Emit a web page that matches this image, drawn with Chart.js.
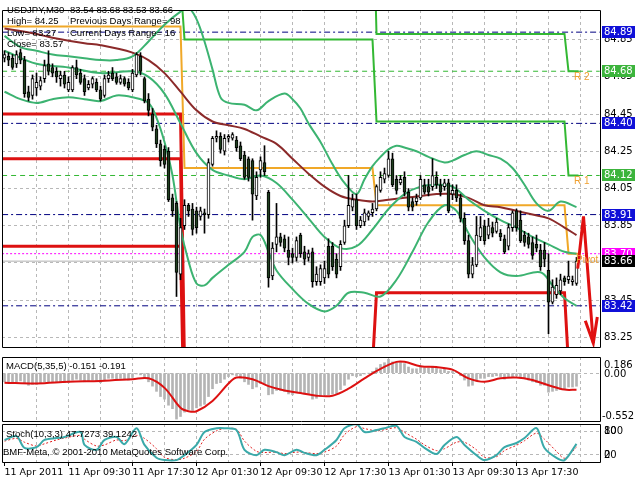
<!DOCTYPE html>
<html>
<head>
<meta charset="utf-8">
<title>USDJPY,M30</title>
<script src="https://cdn.jsdelivr.net/npm/chart.js@4.4.1/dist/chart.umd.min.js"></script>
<style>
  html, body { margin: 0; padding: 0; background: #fff; }
  body { width: 640px; height: 480px; position: relative; overflow: hidden; }
  canvas { position: absolute; left: 0; }
  #mainChart { top: 0; }
  #macdChart { top: 356px; }
  #stochChart { top: 423px; }
</style>
</head>
<body>
<canvas id="mainChart" width="640" height="357"></canvas>
<canvas id="macdChart" width="640" height="67"></canvas>
<canvas id="stochChart" width="640" height="57"></canvas>
<script>
// ---- candles (M30 bars, 11 Apr 01:30 .. 14 Apr 00:30) ----
const opens = [
  84.75,84.76,84.75,84.72,84.78,84.74,84.57,84.55,84.59,84.60,
  84.64,84.72,84.70,84.68,84.64,84.66,84.58,84.58,84.70,84.67,
  84.64,84.59,84.61,84.62,84.58,84.55,84.64,84.67,84.65,84.62,
  84.64,84.62,84.58,84.66,84.76,84.64,84.53,84.45,84.37,84.29,
  84.26,84.25,84.00,83.97,83.59,83.85,83.96,83.94,83.93,83.90,
  83.92,83.91,84.18,84.32,84.33,84.25,84.32,84.32,84.31,84.28,
  84.23,84.21,84.20,84.01,84.15,84.19,84.03,83.58,83.75,83.79,
  83.78,83.72,83.70,83.68,83.80,83.71,83.68,83.71,83.55,83.55,
  83.57,83.74,83.74,83.67,83.63,83.76,83.85,83.95,83.99,83.85,
  83.87,83.90,83.92,83.94,84.04,84.10,84.12,84.21,84.10,84.08,
  84.11,84.03,83.98,83.98,84.00,84.07,84.06,84.06,84.11,84.07,
  84.06,84.08,84.02,84.04,84.00,83.89,83.77,83.59,83.64,83.79,
  83.85,83.80,83.84,83.82,83.81,83.78,83.74,83.84,83.93,83.88,
  83.80,83.79,83.76,83.75,83.72,83.72,83.61,83.44,83.48,83.50,
  83.57,83.56,83.55,83.54
];
const highs = [
  84.79,84.78,84.77,84.79,84.80,84.76,84.60,84.66,84.67,84.65,
  84.74,84.79,84.72,84.70,84.68,84.68,84.65,84.71,84.74,84.69,
  84.66,84.63,84.65,84.64,84.60,84.66,84.68,84.70,84.67,84.66,
  84.65,84.64,84.69,84.78,84.78,84.65,84.56,84.48,84.39,84.31,
  84.28,84.27,84.02,83.98,83.89,83.99,83.97,83.97,83.95,83.95,
  83.94,84.21,84.33,84.36,84.35,84.34,84.34,84.35,84.33,84.30,
  84.25,84.22,84.21,84.14,84.22,84.28,84.04,83.76,83.97,83.81,
  83.80,83.79,83.73,83.79,83.81,83.74,83.72,83.73,83.63,83.64,
  83.66,83.78,83.76,83.70,83.77,83.88,84.12,84.02,84.02,83.90,
  83.94,83.93,83.97,84.07,84.14,84.16,84.25,84.24,84.12,84.12,
  84.14,84.05,84.00,84.02,84.12,84.10,84.10,84.21,84.14,84.10,
  84.10,84.10,84.07,84.07,84.02,83.92,83.80,83.68,83.90,83.90,
  83.88,83.89,83.87,83.89,83.83,83.80,83.86,83.93,83.94,83.93,
  83.82,83.81,83.79,83.80,83.75,83.76,83.70,83.56,83.57,83.59,
  83.58,83.66,83.58,83.68
];
const lows = [
  84.73,84.71,84.69,84.70,84.72,84.54,84.52,84.53,84.55,84.58,
  84.62,84.66,84.65,84.62,84.60,84.59,84.57,84.57,84.64,84.61,
  84.55,84.58,84.59,84.57,84.52,84.54,84.62,84.63,84.61,84.61,
  84.60,84.58,84.57,84.65,84.66,84.51,84.44,84.36,84.27,84.17,
  84.16,83.98,83.90,83.47,83.56,83.83,83.90,83.80,83.81,83.88,
  83.81,83.89,84.17,84.30,84.24,84.23,84.30,84.31,84.25,84.20,
  84.10,84.09,83.88,83.99,84.11,84.12,83.52,83.56,83.71,83.74,
  83.71,83.64,83.65,83.66,83.68,83.64,83.66,83.52,83.53,83.53,
  83.54,83.57,83.61,83.57,83.61,83.75,83.84,83.93,83.83,83.84,
  83.85,83.88,83.90,83.93,84.03,84.08,84.11,84.06,84.02,84.07,
  84.01,83.93,83.93,83.96,83.99,84.02,84.01,84.04,84.05,84.01,
  84.04,83.92,83.99,83.98,83.87,83.75,83.57,83.57,83.63,83.77,
  83.75,83.78,83.79,83.81,83.77,83.70,83.72,83.82,83.82,83.76,
  83.74,83.73,83.67,83.71,83.61,83.63,83.27,83.43,83.46,83.48,
  83.53,83.54,83.53,83.53
];
const closes = [
  84.77,84.74,84.70,84.77,84.74,84.56,84.54,84.64,84.62,84.63,
  84.71,84.68,84.67,84.65,84.66,84.61,84.62,84.70,84.66,84.62,
  84.57,84.61,84.64,84.58,84.53,84.64,84.66,84.64,84.62,84.64,
  84.61,84.59,84.67,84.77,84.68,84.52,84.47,84.38,84.29,84.20,
  84.18,83.99,83.93,83.60,83.84,83.96,83.93,83.83,83.84,83.93,
  83.91,84.19,84.32,84.33,84.26,84.32,84.33,84.34,84.27,84.21,
  84.11,84.11,84.02,84.11,84.20,84.14,83.57,83.73,83.79,83.76,
  83.73,83.68,83.68,83.77,83.70,83.67,83.70,83.55,83.59,83.62,
  83.62,83.59,83.63,83.59,83.75,83.85,83.96,83.99,83.85,83.88,
  83.92,83.92,83.94,84.06,84.11,84.13,84.21,84.07,84.04,84.10,
  84.03,83.95,83.95,84.00,84.10,84.03,84.03,84.12,84.07,84.03,
  84.08,83.93,84.04,84.00,83.89,83.77,83.59,83.64,83.80,83.84,
  83.77,83.85,83.81,83.87,83.79,83.71,83.84,83.92,83.84,83.77,
  83.76,83.75,83.69,83.73,83.63,83.67,83.44,83.52,83.53,83.56,
  83.55,83.58,83.56,83.66
];

// ---- axis labels / ticks ----
const timeLabels = ['11 Apr 2011', '11 Apr 09:30', '11 Apr 17:30', '12 Apr 01:30', '12 Apr 09:30',
                    '12 Apr 17:30', '13 Apr 01:30', '13 Apr 09:30', '13 Apr 17:30'];
const labelBars = [0, 16, 32, 48, 64, 80, 96, 112, 128];
const gridBars = [8, 16, 24, 32, 40, 48, 56, 64, 72, 80, 88, 96, 104, 112, 120, 128, 136, 144];
const priceTicks = [83.25, 83.45, 83.65, 83.85, 84.05, 84.25, 84.45, 84.65, 84.85];

// ---- Bollinger bands and moving average ----
const upperIdx = [0,4,8,12,16,20,24,28,32,36,40,44,46,48,50,52,54,56,60,63,66,70,72,74,76,79,82,85,88,90,92,94,96,98,100,103,106,110,112,115,118,121,124,127,130,133,136,139,143];
const upperVal = [84.87,84.81,84.79,84.77,84.76,84.75,84.74,84.74,84.76,84.84,84.93,85.00,85.02,84.96,84.84,84.69,84.54,84.51,84.50,84.47,84.52,84.56,84.53,84.48,84.40,84.30,84.18,84.08,84.02,84.10,84.17,84.22,84.26,84.28,84.27,84.25,84.22,84.19,84.20,84.23,84.25,84.23,84.21,84.16,84.07,83.97,83.93,83.98,83.95];
const midIdx = [0,8,16,24,32,36,40,44,48,52,56,60,64,68,72,76,80,84,88,92,96,100,104,108,112,116,120,124,128,132,136,140,143];
const midVal = [84.79,84.72,84.70,84.67,84.68,84.65,84.56,84.40,84.24,84.15,84.12,84.10,84.12,84.08,83.99,83.89,83.79,83.73,83.74,83.83,83.94,84.02,84.06,84.07,84.06,83.99,83.93,83.88,83.84,83.79,83.75,83.71,83.70];
const lowIdx = [0,4,8,12,16,20,24,28,32,36,38,40,42,44,46,48,50,52,56,60,62,64,66,68,72,76,80,83,86,90,94,98,102,106,110,113,116,120,124,128,134,137,140,143];
const lowVal = [84.57,84.53,84.51,84.53,84.54,84.53,84.52,84.55,84.54,84.51,84.43,84.30,84.12,83.84,83.66,83.54,83.53,83.57,83.64,83.71,83.79,83.80,83.71,83.61,83.51,83.43,83.39,83.42,83.49,83.49,83.47,83.56,83.71,83.87,83.96,83.93,83.81,83.68,83.60,83.58,83.60,83.53,83.46,83.42];
const maIdx = [0,8,12,20,24,32,36,40,44,48,52,56,60,64,68,72,76,80,84,88,92,96,100,104,108,112,116,120,124,128,132,136,140,143];
const maVal = [84.91,84.88,84.86,84.83,84.82,84.78,84.74,84.67,84.57,84.47,84.41,84.39,84.37,84.33,84.29,84.21,84.13,84.06,84.01,83.99,83.98,83.99,84.00,84.01,84.02,84.02,84.00,83.96,83.95,83.93,83.91,83.89,83.84,83.80];

// ---- daily pivot levels (one value per day) ----
const daySpans = [[-0.5, 44], [45, 92], [93, 140], [141, 143.5]];
const pivotLvl = [84.92, 84.16, 83.96, 83.70];
const r1Lvl = [85.16, 84.85, 84.41, 84.12];
const r2Lvl = [85.63, 85.74, 84.88, 84.68];
const s1Lvl = [84.45, 83.10, 83.49, 83.10];
const s2Lvl = [84.21, 82.90, 82.90, 82.90];
const s3Lvl = [83.74, 82.70, 82.70, 82.70];

// ---- horizontal levels on the price scale ----
const navyLevels = [84.89, 84.40, 83.91, 83.42];
const greenLevels = [84.68, 84.12];
const pivotLevel = 83.70;
const bidLevel = 83.66;

// ---- hand drawn arrow ----
const arrowX = [143.3, 144.75, 147.2];
const arrowY = [83.62, 83.90, 83.22];
const arrowHeadX = [145.2, 147.2, 148.2];
const arrowHeadY = [83.34, 83.22, 83.36];

// ---- MACD(5,35,5) ----
const macdHist = [
  -0.10,-0.10,-0.11,-0.10,-0.09,-0.12,-0.14,-0.13,-0.13,-0.12,-0.10,-0.10,-0.10,-0.11,-0.10,-0.11,
  -0.11,-0.08,-0.07,-0.08,-0.10,-0.09,-0.08,-0.09,-0.11,-0.08,-0.06,-0.06,-0.07,-0.06,-0.07,-0.08,
  -0.05,-0.01,-0.02,-0.06,-0.10,-0.15,-0.21,-0.27,-0.30,-0.37,-0.41,-0.53,-0.50,-0.45,-0.42,-0.43,
  -0.40,-0.38,-0.36,-0.27,-0.18,-0.12,-0.11,-0.07,-0.04,-0.02,-0.03,-0.06,-0.10,-0.13,-0.18,-0.16,
  -0.12,-0.12,-0.25,-0.24,-0.20,-0.20,-0.21,-0.24,-0.25,-0.22,-0.23,-0.24,-0.24,-0.30,-0.29,-0.27,
  -0.25,-0.25,-0.24,-0.24,-0.19,-0.14,-0.07,-0.03,-0.04,-0.03,-0.01,0.00,0.02,0.06,0.10,0.12,
  0.16,0.13,0.12,0.13,0.11,0.07,0.05,0.05,0.08,0.06,0.06,0.08,0.06,0.04,0.05,0.02,
  0.02,0.01,-0.03,-0.08,-0.15,-0.14,-0.09,-0.06,-0.06,-0.04,-0.04,-0.03,-0.04,-0.07,-0.05,-0.05,
  -0.03,-0.04,-0.06,-0.08,-0.10,-0.11,-0.14,-0.14,-0.22,-0.21,-0.20,-0.19,-0.18,-0.16,-0.16,-0.151
];
const macdSigIdx = [0,8,16,24,32,36,40,44,46,48,52,56,58,62,66,70,74,78,82,86,90,94,98,100,104,108,112,116,120,124,128,132,136,140,143];
const macdSigVal = [-0.11,-0.12,-0.10,-0.09,-0.07,-0.06,-0.17,-0.40,-0.44,-0.44,-0.32,-0.12,-0.05,-0.07,-0.15,-0.20,-0.23,-0.26,-0.26,-0.18,-0.06,0.05,0.13,0.13,0.08,0.07,0.04,-0.06,-0.10,-0.06,-0.05,-0.08,-0.14,-0.19,-0.191];
const macdMax = 0.186, macdMin = -0.552;

// ---- Stochastic(10,3,3) ----
const stochIdx = [0,3,5,8,10,13,15,19,20,23,25,28,30,33,35,38,40,43,45,48,50,53,55,58,60,63,65,68,70,73,75,78,80,83,85,88,90,93,95,98,100,103,105,108,110,113,115,118,120,123,125,128,130,133,135,138,140,143];
const stochMain = [58,68,37,39,58,63,66,79,45,32,58,66,47,89,45,11,5,5,18,45,79,89,89,84,32,18,32,26,18,32,24,18,32,58,89,100,79,84,89,95,66,53,37,21,45,66,45,18,5,18,39,50,63,89,37,11,5,47.7273];
const stochSig = [55,62,52,42,48,58,63,70,60,42,45,58,56,70,62,35,12,6,10,28,60,82,88,86,55,28,25,26,22,26,25,22,26,42,72,93,88,82,85,90,78,60,45,30,35,52,52,32,12,14,30,44,56,76,60,28,10,39.1242];
const stochLevels = [20, 80];

const pts = (xs, ys) => xs.map((x, k) => ({ x: x, y: ys[k] }));
const stepPts = vals => {
  const out = [];
  daySpans.forEach((d, k) => { out.push({ x: d[0], y: vals[k] }, { x: d[1], y: vals[k] }); });
  return out;
};
const flat = v => [{ x: -0.6, y: v }, { x: 148.8, y: v }];

Chart.defaults.font.family = "'DejaVu Sans', sans-serif";
Chart.defaults.font.size = 10;
Chart.defaults.color = '#000';

const X_MIN = -0.625, X_MAX = 148.875;

function gridAxis() {
  return {
    type: 'linear', min: X_MIN, max: X_MAX, offset: false,
    grid: { color: '#b8b8b8', drawTicks: false, offset: false },
    border: { display: false, dash: [3, 3] },
    ticks: { display: false },
    afterBuildTicks: s => { s.ticks = gridBars.map(v => ({ value: v })); },
    afterFit: s => { s.height = 0; }
  };
}

function frame(ctx, a) {
  ctx.save();
  ctx.strokeStyle = '#000';
  ctx.lineWidth = 1;
  ctx.beginPath();
  ctx.moveTo(a.left + 0.5, a.top + 0.5);
  ctx.lineTo(a.right + 0.5, a.top + 0.5);
  ctx.lineTo(a.right + 0.5, a.bottom + 0.5);
  ctx.lineTo(a.left + 0.5, a.bottom + 0.5);
  ctx.closePath();
  ctx.stroke();
  ctx.restore();
}

const headerRows = [
  ['USDJPY,M30', '83.54 83.68 83.53 83.66'],
  ['High= 84.25', 'Previous Days Range= 98'],
  ['Low= 83.27', 'Current Days Range= 16'],
  ['Close= 83.57', '']
];

const mainOverlay = {
  id: 'mainOverlay',
  afterDraw(chart) {
    const { ctx, chartArea: a, scales: { x, y } } = chart;
    frame(ctx, a);
    ctx.save();
    // header text
    ctx.fillStyle = '#000';
    ctx.font = "9.5px 'Liberation Sans'";
    ctx.textBaseline = 'middle';
    ctx.textAlign = 'left';
    const rowY = [10, 21, 33, 44];
    headerRows.forEach((r, k) => {
      ctx.fillText(r[0], 7, rowY[k]);
      if (r[1]) ctx.fillText(r[1], 70, rowY[k]);
    });
    // level names
    ctx.fillStyle = '#f0a030';
    ctx.font = "10px 'Liberation Sans'";
    ctx.textBaseline = 'top';
    const lx = x.getPixelForValue(142.4);
    ctx.fillText('R 2', lx, y.getPixelForValue(r2Lvl[3]) + 1);
    ctx.fillText('R 1', lx, y.getPixelForValue(r1Lvl[3]) + 1);
    ctx.fillText('Pivot', lx + 2, y.getPixelForValue(pivotLvl[3]) + 2);
    // price boxes
    ctx.font = "10px 'DejaVu Sans'";
    ctx.textBaseline = 'middle';
    const boxes = [];
    navyLevels.forEach(v => boxes.push({ v, bg: '#1010d8' }));
    greenLevels.forEach(v => boxes.push({ v, bg: '#3cb43c' }));
    boxes.push({ v: pivotLevel, bg: '#ff00ff' });
    boxes.push({ v: bidLevel, bg: '#000000' });
    boxes.forEach(b => {
      const py = Math.round(y.getPixelForValue(b.v));
      ctx.fillStyle = b.bg;
      ctx.fillRect(602, py - 6, 33, 12);
      ctx.fillStyle = '#fff';
      ctx.fillText(b.v.toFixed(2), 604, py);
    });
    ctx.restore();
  }
};

const lineDs = (data, color, width, extra) => Object.assign({
  type: 'line', data, borderColor: color, borderWidth: width, pointRadius: 0, fill: false, tension: 0
}, extra || {});

new Chart(document.getElementById('mainChart'), {
  type: 'bar',
  data: {
    datasets: [
      lineDs(pts(arrowX, arrowY), '#e01010', 3, { order: -1 }),
      lineDs(pts(arrowHeadX, arrowHeadY), '#e01010', 3, { order: -1 }),
      {
        type: 'bar', order: 0, grouped: false, barThickness: 3, minBarLength: 1,
        data: opens.map((o, i) => ({ x: i, y: [o, closes[i]] })),
        backgroundColor: opens.map((o, i) => closes[i] >= o ? '#ffffff' : '#1f3f1f'),
        borderColor: '#000', borderWidth: 1, borderSkipped: false
      },
      {
        type: 'bar', order: 1, grouped: false, barThickness: 1,
        data: lows.map((l, i) => ({ x: i, y: [l, highs[i]] })),
        backgroundColor: '#000'
      },
      lineDs(pts(upperIdx, upperVal), '#3cb371', 2, { order: 2, tension: 0.35 }),
      lineDs(pts(midIdx, midVal), '#3cb371', 2, { order: 2, tension: 0.35 }),
      lineDs(pts(lowIdx, lowVal), '#3cb371', 2, { order: 2, tension: 0.35 }),
      lineDs(pts(maIdx, maVal), '#8b2a2a', 2, { order: 2, tension: 0.35 }),
      lineDs(stepPts(pivotLvl), '#f0a828', 2, { order: 3 }),
      lineDs(stepPts(r1Lvl), '#33b833', 2, { order: 3 }),
      lineDs(stepPts(r2Lvl), '#33b833', 2, { order: 3 }),
      lineDs(stepPts(s1Lvl), '#dd1111', 3, { order: 3 }),
      lineDs(stepPts(s2Lvl), '#dd1111', 3, { order: 3 }),
      lineDs(stepPts(s3Lvl), '#dd1111', 3, { order: 3 }),
      ...navyLevels.map(v => lineDs(flat(v), '#000080', 1, { order: 4, borderDash: [6, 3, 2, 3] })),
      ...greenLevels.map(v => lineDs(flat(v), '#33b833', 1, { order: 4, borderDash: [5, 4] })),
      lineDs(flat(pivotLevel), '#ff00ff', 1, { order: 4, borderDash: [2, 2] }),
      lineDs(flat(bidLevel), '#b0b0b0', 1, { order: 4 })
    ]
  },
  options: {
    responsive: false, animation: false, devicePixelRatio: 1, events: [],
    layout: { padding: { left: 2, right: 0, top: 2, bottom: 2 } },
    plugins: { legend: { display: false }, tooltip: { enabled: false } },
    scales: {
      x: gridAxis(),
      y: {
        position: 'right', min: 83.1987, max: 85.009,
        grid: { color: '#b8b8b8', drawTicks: false },
        border: { display: false, dash: [3, 3] },
        ticks: { padding: 4, font: { size: 10 }, callback: v => v.toFixed(2) },
        afterBuildTicks: s => { s.ticks = priceTicks.map(v => ({ value: v })); },
        afterFit: s => { s.width = 40; }
      }
    }
  },
  plugins: [mainOverlay]
});

// ---- MACD panel ----
const macdOverlay = {
  id: 'macdOverlay',
  afterDraw(chart) {
    const { ctx, chartArea: a } = chart;
    frame(ctx, a);
    ctx.save();
    ctx.fillStyle = '#000';
    ctx.textBaseline = 'middle';
    ctx.font = "9.5px 'Liberation Sans'";
    ctx.fillText('MACD(5,35,5) ' + macdHist[macdHist.length - 1].toFixed(3) + ' ' +
      macdSigVal[macdSigVal.length - 1].toFixed(3), 6, 10);
    ctx.font = "10px 'DejaVu Sans'";
    ctx.fillText(macdMax.toFixed(3), 604, 9);
    ctx.fillText('0.00', 604, 18);
    ctx.fillText(macdMin.toFixed(3), 602, 60);
    ctx.restore();
  }
};

new Chart(document.getElementById('macdChart'), {
  type: 'bar',
  data: {
    datasets: [
      lineDs(pts(macdSigIdx, macdSigVal), '#dd1111', 2, { order: 0, tension: 0.35 }),
      {
        type: 'bar', order: 1, grouped: false, barThickness: 2,
        data: macdHist.map((v, i) => ({ x: i, y: v })),
        backgroundColor: '#b4b4b4'
      }
    ]
  },
  options: {
    responsive: false, animation: false, devicePixelRatio: 1, events: [],
    layout: { padding: { left: 2, right: 0, top: 1, bottom: 2 } },
    plugins: { legend: { display: false }, tooltip: { enabled: false } },
    scales: {
      x: gridAxis(),
      y: {
        position: 'right', min: macdMin, max: macdMax,
        grid: { color: '#b8b8b8', drawTicks: false },
        border: { display: false, dash: [3, 3] },
        ticks: { display: false },
        afterBuildTicks: s => { s.ticks = [{ value: 0 }]; },
        afterFit: s => { s.width = 40; }
      }
    }
  },
  plugins: [macdOverlay]
});

// ---- Stochastic panel ----
const stochOverlay = {
  id: 'stochOverlay',
  afterDraw(chart) {
    const { ctx, chartArea: a } = chart;
    frame(ctx, a);
    ctx.save();
    ctx.fillStyle = '#000';
    ctx.textBaseline = 'middle';
    ctx.font = "9.5px 'Liberation Sans'";
    ctx.fillText('Stoch(10,3,3) ' + stochMain[stochMain.length - 1].toFixed(4) + ' ' +
      stochSig[stochSig.length - 1].toFixed(4), 6, 11);
    ctx.fillText('BMF-Meta, \u00a9 2001-2010 MetaQuotes Software Corp.', 3, 29);
    ctx.font = "10px 'DejaVu Sans'";
    ctx.fillText('100', 604, 8);
    ctx.fillText('80', 604, 8);
    ctx.fillText('20', 604, 32);
    ctx.fillText('0', 604, 32);
    ctx.restore();
  }
};

new Chart(document.getElementById('stochChart'), {
  type: 'line',
  data: {
    datasets: [
      lineDs(pts(stochIdx, stochMain), '#3aa9a9', 2, { order: 0, tension: 0.3 }),
      lineDs(pts(stochIdx, stochSig), '#e02020', 1, { order: 1, tension: 0.3, borderDash: [2, 2] })
    ]
  },
  options: {
    responsive: false, animation: false, devicePixelRatio: 1, events: [],
    layout: { padding: { left: 2, right: 0, top: 1, bottom: 0 } },
    plugins: { legend: { display: false }, tooltip: { enabled: false } },
    scales: {
      x: gridAxis(),
      xl: {
        type: 'linear', position: 'bottom', min: X_MIN, max: X_MAX, offset: false,
        grid: { drawOnChartArea: false, drawTicks: true, tickLength: 4, tickColor: '#000', offset: false },
        border: { display: false },
        ticks: {
          align: 'start', padding: 1, autoSkip: false, maxRotation: 0,
          font: { size: 9.5 }, callback: (v, i) => timeLabels[i]
        },
        afterBuildTicks: s => { s.ticks = labelBars.map(v => ({ value: v })); },
        afterFit: s => { s.height = 18; }
      },
      y: {
        position: 'right', min: 0, max: 100,
        grid: { color: '#b8b8b8', drawTicks: false },
        border: { display: false, dash: [3, 3] },
        ticks: { display: false },
        afterBuildTicks: s => { s.ticks = stochLevels.map(v => ({ value: v })); },
        afterFit: s => { s.width = 40; }
      }
    }
  },
  plugins: [stochOverlay]
});
</script>
</body>
</html>
